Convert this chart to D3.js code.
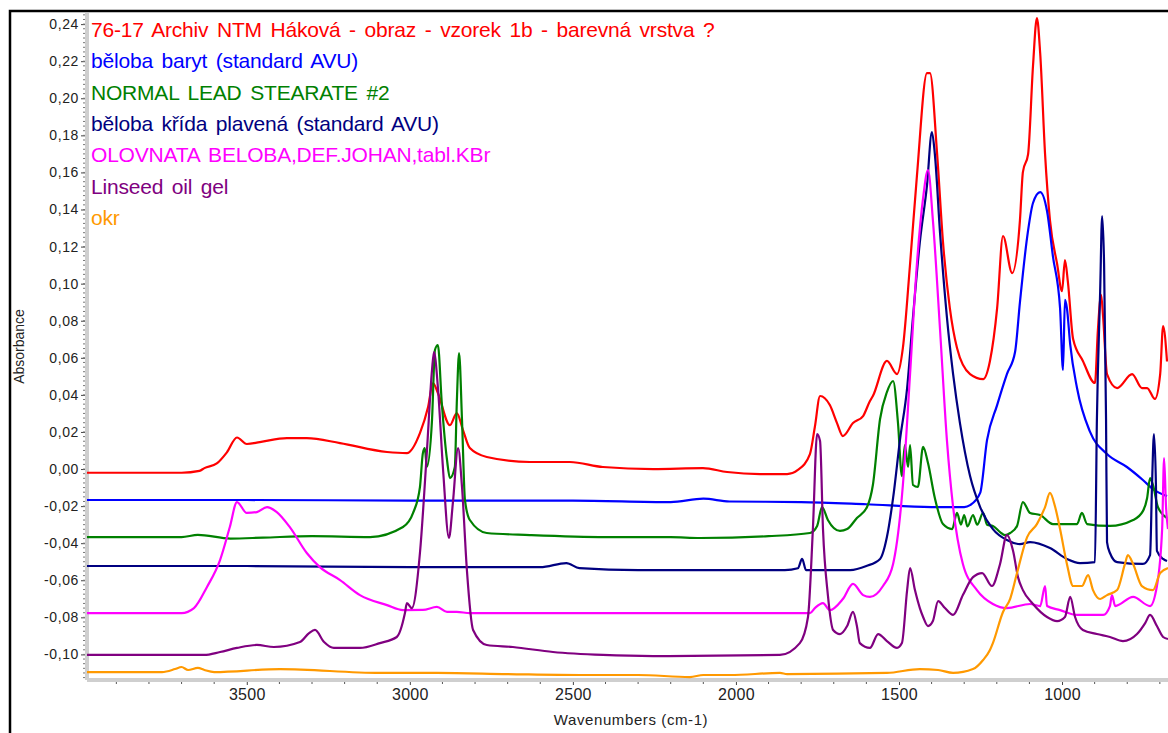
<!DOCTYPE html>
<html>
<head>
<meta charset="utf-8">
<script src="https://cdn.jsdelivr.net/npm/d3@7"></script>
<style>
  body { margin: 0; background: #fff; }
  text { font-family: "Liberation Sans", Arial, sans-serif; }
</style>
</head>
<body>
<script>
// spectra: [wavenumber, absorbance]
let red = [[3990,-0.002],[3700,-0.002],[3645,-0.001],[3630,0.0005],[3592,0.003],[3561,0.009],[3530,0.017],[3500,0.0135],[3460,0.0145],[3377,0.0167],[3316,0.0167],[3214,0.014],[3070,0.0092],[3009,0.0086],[2969,0.0194],[2944,0.0334],[2929,0.0464],[2914,0.041],[2877,0.0237],[2856,0.0302],[2837,0.021],[2816,0.0113],[2764,0.0065],[2632,0.0038],[2509,0.0038],[2408,0.0011],[2254,0],[2101,0.0005],[2027,-0.0016],[1926,-0.0027],[1843,-0.0027],[1810,-0.0005],[1773,0.0081],[1758,0.0227],[1742,0.0394],[1712,0.0345],[1690,0.0248],[1672,0.0178],[1641,0.0248],[1610,0.0286],[1589,0.0367],[1580,0.0394],[1537,0.0583],[1506,0.0512],[1488,0.0653],[1466,0.1106],[1445,0.158],[1414,0.2136],[1405,0.2136],[1383,0.1699],[1365,0.1224],[1344,0.0868],[1322,0.0653],[1282,0.0512],[1242,0.0485],[1221,0.0583],[1199,0.0868],[1181,0.1257],[1153,0.1057],[1129,0.1343],[1120,0.1602],[1104,0.1699],[1089,0.2174],[1077,0.2433],[1067,0.2244],[1052,0.1699],[1037,0.1343],[1015,0.1106],[1000,0.096],[991,0.1127],[982,0.1009],[966,0.0701],[936,0.0583],[899,0.0464],[890,0.075],[880,0.0939],[874,0.082],[862,0.0512],[831,0.0437],[785,0.0512],[755,0.0437],[739,0.0437],[715,0.0378],[699,0.0512],[690,0.0771],[678,0.058]];
let blue = [[3990,-0.0167],[3500,-0.0167],[3000,-0.017],[2500,-0.017],[2200,-0.0178],[2100,-0.016],[2020,-0.0175],[1800,-0.0178],[1600,-0.019],[1400,-0.0205],[1300,-0.0205],[1282,-0.0195],[1251,-0.0129],[1230,0.0156],[1199,0.0345],[1169,0.0512],[1144,0.0631],[1129,0.09],[1107,0.125],[1089,0.1435],[1067,0.1494],[1046,0.1392],[1028,0.1149],[1006,0.0868],[997,0.0534],[991,0.0912],[985,0.0868],[975,0.0674],[954,0.0437],[914,0.02],[862,0.0081],[801,0.0011],[752,-0.0059],[721,-0.0108],[678,-0.0146]];
let green = [[3990,-0.0367],[3700,-0.0367],[3650,-0.0355],[3550,-0.0375],[3450,-0.037],[3300,-0.0362],[3122,-0.0367],[3021,-0.0313],[2990,-0.0237],[2969,-0.0097],[2960,0.0086],[2954,0.0113],[2948,0.0011],[2932,0.0264],[2923,0.0642],[2914,0.0669],[2902,0.0356],[2886,0.0049],[2877,-0.0049],[2862,0.0011],[2856,0.0356],[2849,0.0626],[2840,0.0264],[2831,-0.0167],[2816,-0.0275],[2764,-0.0345],[2632,-0.0356],[2400,-0.0367],[2200,-0.0367],[2110,-0.0372],[1900,-0.0362],[1773,-0.0345],[1751,-0.0307],[1736,-0.0205],[1718,-0.0275],[1681,-0.0334],[1659,-0.0324],[1629,-0.0264],[1598,-0.0205],[1580,-0.0086],[1558,0.027],[1537,0.0415],[1518,0.0475],[1503,0.0248],[1491,-0.0038],[1482,0.0129],[1472,0.0011],[1466,0.0129],[1457,-0.0086],[1442,-0.0097],[1426,0.012],[1411,0.0032],[1390,-0.0156],[1365,-0.0297],[1337,-0.0324],[1322,-0.0237],[1310,-0.03],[1300,-0.0248],[1290,-0.031],[1273,-0.0248],[1260,-0.03],[1242,-0.0237],[1230,-0.03],[1212,-0.0307],[1190,-0.034],[1175,-0.0356],[1159,-0.0345],[1138,-0.0307],[1120,-0.0178],[1098,-0.0237],[1067,-0.0248],[1028,-0.0297],[954,-0.0297],[939,-0.0237],[923,-0.0297],[853,-0.0307],[782,-0.0275],[752,-0.0227],[739,-0.0156],[730,-0.0049],[721,-0.0086],[706,-0.0205],[678,-0.0264]];
let navy = [[3990,-0.0523],[3500,-0.0523],[3000,-0.0529],[2600,-0.0529],[2520,-0.0507],[2480,-0.0535],[2300,-0.0545],[1850,-0.0545],[1810,-0.0535],[1797,-0.0485],[1785,-0.0545],[1650,-0.0545],[1600,-0.0523],[1558,-0.0485],[1537,-0.0367],[1518,-0.0156],[1497,0.0156],[1475,0.0437],[1457,0.082],[1436,0.1224],[1414,0.1532],[1399,0.1818],[1390,0.1699],[1374,0.1273],[1353,0.082],[1334,0.0512],[1313,0.0248],[1282,-0.0038],[1251,-0.0205],[1212,-0.0324],[1169,-0.0383],[1129,-0.0405],[1098,-0.0394],[1037,-0.0426],[985,-0.0485],[945,-0.0507],[899,-0.0502],[893,0.027],[883,0.096],[877,0.1365],[871,0.1106],[865,0.027],[862,-0.0394],[853,-0.0453],[831,-0.0502],[752,-0.0512],[730,-0.0464],[724,-0.0086],[718,0.0189],[712,-0.0086],[709,-0.0442],[690,-0.0485],[678,-0.0496]];
let magenta = [[3990,-0.0777],[3700,-0.0777],[3662,-0.075],[3622,-0.0636],[3582,-0.0491],[3552,-0.0313],[3530,-0.0178],[3500,-0.0237],[3469,-0.0232],[3438,-0.0205],[3408,-0.0232],[3368,-0.0313],[3316,-0.0453],[3276,-0.0529],[3214,-0.0599],[3153,-0.068],[3070,-0.0734],[3021,-0.0761],[2960,-0.076],[2917,-0.0744],[2886,-0.0771],[2856,-0.0771],[2816,-0.0777],[2000,-0.0777],[1773,-0.0777],[1758,-0.075],[1733,-0.0723],[1712,-0.0761],[1672,-0.0701],[1641,-0.062],[1610,-0.068],[1589,-0.069],[1549,-0.0631],[1518,-0.0512],[1488,-0.0086],[1466,0.0512],[1445,0.1106],[1426,0.1462],[1411,0.1613],[1396,0.1343],[1374,0.075],[1353,0.0156],[1334,-0.0205],[1304,-0.0512],[1261,-0.0653],[1212,-0.0728],[1169,-0.075],[1098,-0.0728],[1067,-0.0739],[1052,-0.0631],[1046,-0.0739],[1006,-0.0761],[954,-0.0787],[874,-0.0787],[853,-0.0739],[847,-0.068],[837,-0.0739],[782,-0.069],[730,-0.0739],[709,-0.0631],[693,-0.0324],[687,0.0059],[681,-0.0205],[675,-0.0324]];
let purple = [[3990,-0.1003],[3800,-0.1003],[3631,-0.1003],[3582,-0.0987],[3530,-0.0965],[3469,-0.0949],[3417,-0.096],[3337,-0.0933],[3309,-0.0885],[3291,-0.0868],[3263,-0.0933],[3233,-0.0965],[3153,-0.0965],[3092,-0.0939],[3040,-0.0906],[3015,-0.0777],[3009,-0.0723],[2994,-0.075],[2969,-0.0453],[2948,0.0086],[2932,0.0534],[2926,0.0631],[2914,0.0442],[2898,-0.0005],[2880,-0.0372],[2868,-0.0183],[2852,0.0113],[2840,-0.0097],[2825,-0.0545],[2806,-0.0868],[2764,-0.0949],[2684,-0.096],[2561,-0.0987],[2408,-0.1003],[2254,-0.1009],[1865,-0.1003],[1804,-0.0939],[1779,-0.0798],[1764,-0.0324],[1751,0.0189],[1742,0.0151],[1733,-0.0324],[1718,-0.068],[1702,-0.0868],[1681,-0.089],[1659,-0.0847],[1641,-0.0771],[1629,-0.0847],[1620,-0.0939],[1589,-0.0965],[1564,-0.089],[1537,-0.0928],[1506,-0.0965],[1491,-0.0939],[1475,-0.0653],[1466,-0.0534],[1451,-0.0653],[1436,-0.075],[1426,-0.0798],[1411,-0.0847],[1396,-0.082],[1380,-0.0712],[1359,-0.075],[1334,-0.0787],[1304,-0.068],[1273,-0.0583],[1245,-0.0561],[1215,-0.0631],[1190,-0.0512],[1169,-0.0356],[1150,-0.0442],[1135,-0.0583],[1120,-0.0653],[1089,-0.0728],[1046,-0.0798],[1015,-0.082],[991,-0.0798],[975,-0.069],[960,-0.0798],[936,-0.0868],[893,-0.089],[853,-0.0906],[813,-0.0928],[770,-0.089],[745,-0.0831],[730,-0.0787],[709,-0.0847],[690,-0.0906],[675,-0.0917]];
let orange = [[3990,-0.1095],[3760,-0.1095],[3720,-0.1079],[3700,-0.1068],[3680,-0.1084],[3650,-0.1073],[3630,-0.1084],[3600,-0.1095],[3398,-0.1079],[3092,-0.11],[2917,-0.11],[2700,-0.1106],[2478,-0.1111],[2300,-0.1111],[2141,-0.1122],[2100,-0.1111],[2018,-0.1111],[1865,-0.11],[1843,-0.1106],[1537,-0.11],[1436,-0.1079],[1380,-0.1084],[1334,-0.11],[1273,-0.1079],[1242,-0.103],[1221,-0.0976],[1212,-0.0939],[1181,-0.0771],[1159,-0.07],[1138,-0.0561],[1107,-0.0367],[1077,-0.0297],[1052,-0.0205],[1037,-0.0129],[1021,-0.0205],[1006,-0.0324],[985,-0.0512],[966,-0.0631],[939,-0.0631],[920,-0.0572],[905,-0.0653],[883,-0.0701],[862,-0.068],[831,-0.0653],[807,-0.0512],[798,-0.0464],[782,-0.0512],[755,-0.0631],[721,-0.0653],[699,-0.0561],[675,-0.0534]];

let seriesNames = ["76-17 Archiv NTM Háková - obraz - vzorek 1b - barevná vrstva ?",
  "běloba baryt (standard AVU)",
  "NORMAL LEAD STEARATE #2",
  "běloba křída plavená (standard AVU)",
  "OLOVNATA BELOBA,DEF.JOHAN,tabl.KBr",
  "Linseed oil gel",
  "okr"];
let seriesColors = ["#ff0000", "#0000ff", "#008000", "#000080", "#ff00ff", "#800080", "#ff9900"];
let seriesData = [red, blue, green, navy, magenta, purple, orange];

let xTicks = [3500, 3000, 2500, 2000, 1500, 1000];
let yTicks = [-0.10, -0.08, -0.06, -0.04, -0.02, 0, 0.02, 0.04, 0.06, 0.08, 0.10, 0.12, 0.14, 0.16, 0.18, 0.20, 0.22, 0.24];

let width = 1168, height = 733;
let plotL = 87, plotR = 1168, plotT = 13, plotB = 680;

let svg = d3.select("body").append("svg")
  .attr("width", width)
  .attr("height", height);

let x = d3.scaleLinear().domain([3990, 675]).range([plotL, plotR]);
let y = d3.scaleLinear().domain([-0.1138, 0.246]).range([plotB, plotT]);

// outer frame (only left and top visible)
svg.append("path")
  .attr("d", "M10," + height + "V11H" + width)
  .attr("fill", "none")
  .attr("stroke", "#000")
  .attr("stroke-width", 2.5);

svg.append("defs").append("clipPath").attr("id", "plot")
  .append("rect").attr("x", plotL).attr("y", plotT - 2).attr("width", plotR - plotL).attr("height", plotB - plotT + 2);

// axis bands
svg.append("line").attr("x1", plotL).attr("x2", plotL).attr("y1", plotT).attr("y2", plotB)
  .attr("stroke", "#cfcfcf").attr("stroke-width", 4);
svg.append("line").attr("x1", plotL).attr("x2", plotR).attr("y1", plotB).attr("y2", plotB)
  .attr("stroke", "#cfcfcf").attr("stroke-width", 4);

let fmt = d => d3.format(".2f")(d).replace(".", ",").replace("−", "-");

let yAxis = svg.append("g")
  .attr("transform", "translate(" + (plotL - 2) + ",0)")
  .call(d3.axisLeft(y).tickValues(yTicks).tickSize(4).tickPadding(2).tickFormat(fmt));
yAxis.select(".domain").remove();
yAxis.selectAll("text").attr("font-size", 14).attr("letter-spacing", 0.6).attr("fill", "#222");
yAxis.selectAll("line").attr("stroke", "#444");

// minor y ticks
svg.append("g").selectAll("line")
  .data(d3.range(-0.1125, 0.2451, 0.0025))
  .join("line")
  .attr("x1", plotL - 2).attr("x2", plotL - 4)
  .attr("y1", d => y(d)).attr("y2", d => y(d))
  .attr("stroke", "#777").attr("stroke-width", 1);

let xAxis = svg.append("g")
  .attr("transform", "translate(0," + (plotB + 2) + ")")
  .call(d3.axisBottom(x).tickValues(xTicks).tickSize(3).tickPadding(4).tickFormat(d3.format("d")));
xAxis.select(".domain").remove();
xAxis.selectAll("text").attr("font-size", 16).attr("letter-spacing", 0.3).attr("fill", "#222");
xAxis.selectAll("line").attr("stroke", "#444");

// minor x ticks
svg.append("g").selectAll("line")
  .data(d3.range(3900, 600, -100).filter(d => d % 500 != 0))
  .join("line")
  .attr("x1", d => x(d)).attr("x2", d => x(d))
  .attr("y1", plotB + 2).attr("y2", plotB + 4)
  .attr("stroke", "#555");

svg.append("text")
  .attr("transform", "translate(24," + ((plotT + plotB) / 2) + ") rotate(-90)")
  .attr("text-anchor", "middle")
  .attr("font-size", 14)
  .attr("fill", "#222")
  .text("Absorbance");

svg.append("text")
  .attr("x", 631).attr("y", 725)
  .attr("text-anchor", "middle")
  .attr("font-size", 15)
  .attr("fill", "#222")
  .attr("letter-spacing", 0.6)
  .text("Wavenumbers (cm-1)");

let line = d3.line()
  .curve(d3.curveMonotoneX)
  .x(d => x(d[0]))
  .y(d => y(d[1]));

svg.append("g")
  .attr("clip-path", "url(#plot)")
  .selectAll("path")
  .data(seriesData)
  .join("path")
  .attr("d", line)
  .attr("fill", "none")
  .attr("stroke", (d, i) => seriesColors[i])
  .attr("stroke-width", 2.2)
  .attr("stroke-linejoin", "round");

svg.append("g").selectAll("text")
  .data(seriesNames)
  .join("text")
  .attr("x", 91)
  .attr("y", (d, i) => 37 + i * 31.3)
  .attr("font-size", 21)
  .attr("letter-spacing", -0.2)
  .attr("word-spacing", 3)
  .attr("fill", (d, i) => seriesColors[i])
  .text(d => d);
</script>
</body>
</html>
